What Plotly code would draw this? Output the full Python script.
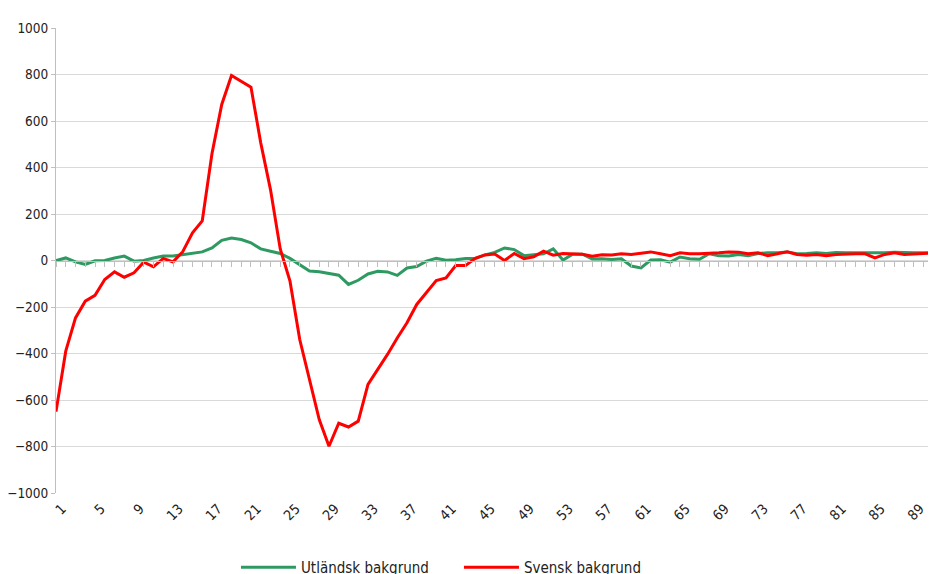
import plotly.graph_objects as go

categories = list(range(1, 93))
tick_labels = [str(v) for v in range(1, 90, 4)]

utlandsk = [0, 11, -6, -17, -1, 0, 11, 19, -3, 0,
            11, 19, 19, 26, 31, 37, 54, 87, 97, 90,
            76, 50, 40, 30, 9, -17, -45, -48, -57, -63,
            -103, -85, -58, -46, -49, -64, -32, -26, -3, 10,
            1, 3, 9, 9, 24, 35, 54, 47, 21, 26,
            29, 50, 2, 27, 27, 7, 8, 4, 7, -24,
            -32, 2, 3, -7, 15, 8, 5, 29, 20, 19,
            26, 21, 30, 33, 33, 37, 29, 30, 33, 30,
            34, 33, 33, 31, 33, 33, 35, 33, 33, 33,
            33, 33]

svensk = [-650, -390, -247, -175, -150, -82, -49, -72, -53, -7,
          -27, 9, -6, 38, 119, 170, 460, 671, 796, 772,
          745, 506, 305, 50, -89, -340, -512, -684, -799, -700,
          -716, -691, -533, -469, -404, -333, -268, -189, -139, -86,
          -75, -22, -22, 9, 24, 28, 0, 30, 8, 16,
          40, 23, 30, 27, 27, 18, 25, 24, 29, 26,
          30, 37, 29, 21, 33, 29, 29, 30, 33, 37,
          36, 29, 33, 21, 29, 37, 26, 23, 26, 21,
          26, 29, 29, 29, 11, 26, 33, 26, 29, 33,
          33, 33]

FONT = "Liberation Sans Narrow, DejaVu Sans Condensed, Liberation Sans, sans-serif"
AXIS_GREY = "#BFBFBF"
GRID_GREY = "#D9D9D9"

fig = go.Figure()
fig.add_trace(go.Scatter(x=categories, y=utlandsk, mode="lines",
                         name="Utländsk bakgrund",
                         line=dict(color="#2E9A62", width=3)))
fig.add_trace(go.Scatter(x=categories, y=svensk, mode="lines",
                         name="Svensk bakgrund",
                         line=dict(color="#FF0000", width=3)))
# invisible trace to host the category tick axis at the zero line
fig.add_trace(go.Scatter(x=categories, y=[0] * len(categories), xaxis="x2",
                         mode="lines", line=dict(width=0), showlegend=False,
                         hoverinfo="skip"))

x_range = [1, 91.26]

fig.update_layout(
    width=928, height=566,
    template="none",
    paper_bgcolor="white", plot_bgcolor="white",
    margin=dict(l=48, r=0, t=20, b=81, autoexpand=False),
    font=dict(family=FONT, size=14, color="#222222"),
    xaxis=dict(range=x_range, tickmode="array",
               tickvals=list(range(1, 90, 4)), ticktext=tick_labels,
               tickangle=-45, showgrid=False, zeroline=False,
               showline=False, ticks="", automargin=False,
               ticklabelshift=6, ticklabelstandoff=4,
               tickfont=dict(size=14, family=FONT, color="#222222")),
    xaxis2=dict(range=x_range, overlaying="x", anchor="free", position=0.5,
                side="bottom", tick0=1, dtick=1, ticks="outside", ticklen=5,
                tickcolor=AXIS_GREY, showline=True, linecolor=AXIS_GREY,
                linewidth=1, showticklabels=False, showgrid=False,
                zeroline=False, automargin=False),
    yaxis=dict(range=[-1000, 1000], tick0=-1000, dtick=200,
               showgrid=True, gridcolor=GRID_GREY, gridwidth=1,
               zeroline=False, showline=True, linecolor=AXIS_GREY,
               ticks="outside", ticklen=4, tickcolor=AXIS_GREY,
               automargin=False,
               tickfont=dict(size=13.5, family=FONT, color="#222222")),
    legend=dict(orientation="h", x=0.2045, xanchor="left",
                y=-0.16, yanchor="middle",
                font=dict(size=15, family=FONT, color="#222222"),
                itemwidth=55,
                entrywidth=153, entrywidthmode="pixels",
                bgcolor="rgba(0,0,0,0)"),
    showlegend=True,
)

fig.write_html("out.html")
